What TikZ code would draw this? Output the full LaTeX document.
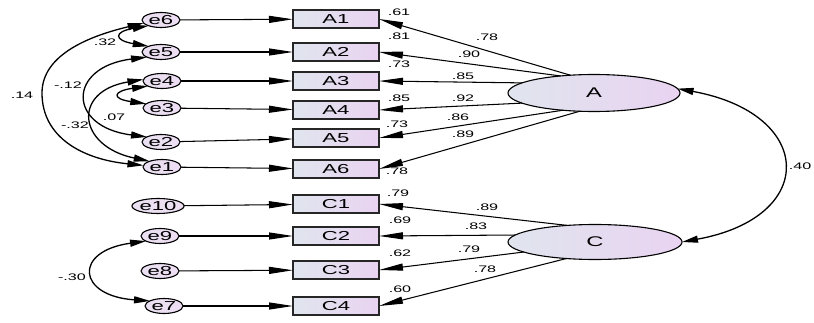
\documentclass[tikz,border=0pt]{standalone}
\usepackage{fontspec}
\setmainfont{Liberation Sans}
\newfontfamily\nfont{Liberation Sans}[FakeStretch=1.7]
\usetikzlibrary{arrows.meta,shapes.geometric,calc}
\definecolor{lb}{RGB}{224,229,238}
\definecolor{lp}{RGB}{233,211,241}
\definecolor{ep}{RGB}{238,222,243}
\begin{document}
\begin{tikzpicture}[x=1pt,y=-1pt,
  obs/.style={draw=black!85,line width=1.5pt,rectangle,minimum width=86pt,minimum height=18pt,inner sep=0pt,outer sep=0pt,left color=lb,right color=lp,font=\fontsize{13}{13}\nfont},
  err/.style={draw=black,line width=1.1pt,ellipse,minimum width=38pt,minimum height=15pt,inner sep=0pt,outer sep=0pt,left color=ep!70!lb,right color=ep,font=\fontsize{13}{13}\nfont},
  lat/.style={draw=black,line width=1.1pt,ellipse,minimum height=37pt,inner sep=0pt,outer sep=0pt,left color=lb,right color=lp,font=\fontsize{14}{14}\nfont},
  arr/.style={line width=1.05pt,-{Triangle[length=24pt,width=7pt]}},
  cov/.style={line width=1.3pt,{Triangle[length=16pt,width=7pt]}-{Triangle[length=16pt,width=7pt]}},
  lab/.style={font=\fontsize{9.5}{9.5}\nfont,inner sep=0pt}
]
\useasboundingbox (0,0) rectangle (814,323);
% observed
\node[obs] (A1) at (336,19) {A1};
\node[obs] (A2) at (336,52) {A2};
\node[obs] (A3) at (336,81) {A3};
\node[obs] (A4) at (336,110) {A4};
\node[obs] (A5) at (336,138) {A5};
\node[obs] (A6) at (336,169) {A6};
\node[obs] (C1) at (336,204) {C1};
\node[obs] (C2) at (336,236) {C2};
\node[obs] (C3) at (336,270) {C3};
\node[obs] (C4) at (336,306) {C4};
% errors
\node[err] (e6) at (161,20) {e6};
\node[err] (e5) at (161,52) {e5};
\node[err] (e4) at (162,81) {e4};
\node[err] (e3) at (162,108) {e3};
\node[err] (e2) at (161,142) {e2};
\node[err] (e1) at (162,167) {e1};
\node[err] (e10) at (158,206) {e10};
\node[err] (e9) at (160,236) {e9};
\node[err] (e8) at (160,271) {e8};
\node[err] (e7) at (164,306) {e7};
% latents
\node[lat,minimum width=172pt] (A) at (594,93) {A};
\node[lat,minimum width=174pt,minimum height=35pt] (C) at (595,242) {C};
% error paths
\foreach \e/\o in {e6/A1,e5/A2,e4/A3,e3/A4,e2/A5,e1/A6,e10/C1,e9/C2,e8/C3,e7/C4}
  \draw[arr] (\e) -- (\o);
% loadings
\draw[arr] (A.143) -- (A1.east);
\draw[arr] (A.153) -- (A2.east);
\draw[arr] (A.172) -- (A3.east);
\draw[arr] (A.188) -- (A4.east);
\draw[arr] (A.209) -- (A5.east);
\draw[arr] (A.232) -- (A6.east);
\draw[arr] (C.149) -- (C1.east);
\draw[arr] (C.175) -- (C2.east);
\draw[arr] (C.188) -- (C3.east);
\draw[arr] (C.210) -- (C4.east);
% covariances
\coordinate (c14) at (42,93);
\draw[cov] (e6.190) .. controls ($(e6.190)+(-50,12)$) and ($(c14)+(0,-40)$) .. (c14)
  .. controls ($(c14)+(0,45)$) and ($(e1.175)+(-60,-6)$) .. (e1.175);
\draw[cov] (e6.205) .. controls ($(e6.205)+(-35,6)$) and ($(e5.155)+(-35,-6)$) .. (e5.155);
\draw[cov] (e5.200) .. controls ($(e5.200)+(-80,10)$) and ($(e2.160)+(-80,-10)$) .. (e2.160);
\draw[cov] (e4.200) .. controls ($(e4.200)+(-35,5)$) and ($(e3.165)+(-35,-5)$) .. (e3.165);
\draw[cov] (e4.175) .. controls ($(e4.175)+(-72,12)$) and ($(e1.155)+(-72,-15)$) .. (e1.155);
\draw[cov] (e9.200) .. controls ($(e9.200)+(-73,10)$) and ($(e7.160)+(-73,-5)$) .. (e7.160);
\draw[cov] (A.3) .. controls ($(A.3)+(137,25)$) and ($(C.0)+(137,-25)$) .. (C.0);
% labels
\node[lab] (r1) at (399,12) {.61};
\node[lab] (r2) at (399,36) {.81};
\node[lab] (r3) at (399,64) {.73};
\node[lab] (r4) at (399,98) {.85};
\node[lab] (r5) at (397,124) {.73};
\node[lab] (r6) at (397,171) {.78};
\node[lab] (l1) at (487,37) {.78};
\node[lab] (l2) at (469,54) {.90};
\node[lab] (l3) at (463,76) {.85};
\node[lab] (l4) at (463,98) {.92};
\node[lab] (l5) at (458,117) {.86};
\node[lab] (l6) at (463,134) {.89};
\node[lab] (rc1) at (398,193) {.79};
\node[lab] (rc2) at (400,220) {.69};
\node[lab] (rc3) at (400,253) {.62};
\node[lab] (rc4) at (400,289) {.60};
\node[lab] (lc1) at (487,207) {.89};
\node[lab] (lc2) at (476,226) {.83};
\node[lab] (lc3) at (469,249) {.79};
\node[lab] (lc4) at (485,269) {.78};
\node[lab] (k1) at (105,42) {.32};
\node[lab] (k2) at (22,95) {.14};
\node[lab] (k3) at (68,85) {-.12};
\node[lab] (k4) at (114,117) {.07};
\node[lab] (k5) at (75,125) {-.32};
\node[lab] (k6) at (72,277) {-.30};
\node[lab] (k7) at (800,166) {.40};
\end{tikzpicture}
\end{document}
